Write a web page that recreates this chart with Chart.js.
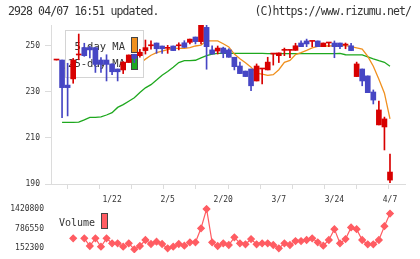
<!DOCTYPE html>
<html>
<head>
<meta charset="utf-8">
<script src="https://cdn.jsdelivr.net/npm/chart.js@4.4.0/dist/chart.umd.min.js"></script>
<style>
html, body { margin: 0; padding: 0; background: #fff; }
#wrap { position: relative; width: 420px; height: 259px; overflow: hidden; }
.hdr { position: absolute; top: 4px; font: 11.5px "DejaVu Sans Mono", monospace; color: #333; letter-spacing: -0.9px; white-space: nowrap; }
#price { position: absolute; left: 0; top: 0; }
#vol { position: absolute; left: 0; top: 192px; }
</style>
</head>
<body>
<div id="wrap">
  <canvas id="price" width="420" height="192"></canvas>
  <canvas id="vol" width="420" height="67"></canvas>
  <div class="hdr" style="left:8px">2928 04/07 16:51 updated.</div>
  <div class="hdr" style="right:9px">(C)https://www.rizumu.net/</div>
</div>
<script>
// trading days, 2025-01-07 .. 2025-04-07
const dates = ['1/7','1/8','1/9','1/10','1/14','1/15','1/16','1/17','1/20','1/21',
  '1/22','1/23','1/24','1/27','1/28','1/29','1/30','1/31','2/3','2/4',
  '2/5','2/6','2/7','2/10','2/12','2/13','2/14','2/17','2/18','2/19',
  '2/20','2/21','2/25','2/26','2/27','2/28','3/3','3/4','3/5','3/6',
  '3/7','3/10','3/11','3/12','3/13','3/14','3/17','3/18','3/19','3/21',
  '3/24','3/25','3/26','3/27','3/28','3/31','4/1','4/2','4/3','4/4','4/7'];

const open  = [243.9,243.9,233.0,235.7,246.1,249.3,249.3,249.3,243.9,243.9,
  242.2,240.0,239.6,242.8,246.4,245.8,248.0,250.1,251.3,250.0,
  249.0,250.0,250.1,251.4,251.6,253.9,251.9,258.1,248.3,247.8,
  249.1,248.3,245.1,241.3,239.1,240.0,234.8,240.0,239.6,246.5,
  245.8,248.1,248.1,248.1,251.3,252.2,252.0,252.2,249.7,251.3,
  251.3,251.3,250.4,250.1,236.7,240.0,237.0,230.0,215.7,214.8,191.7];
const high  = [243.9,243.9,242.5,244.6,255.2,251.2,250.0,249.3,245.0,246.2,
  242.2,240.0,243.2,246.1,246.4,248.6,252.6,252.2,251.3,250.0,
  250.3,250.0,251.4,252.3,253.0,253.9,259.1,259.1,250.1,250.0,
  249.5,248.8,245.1,243.0,239.1,240.0,242.2,240.0,245.1,246.8,
  247.0,249.1,248.1,251.2,252.2,253.0,252.0,252.2,251.3,251.3,
  252.2,251.3,251.3,251.2,243.0,240.0,237.0,230.9,226.1,219.1,203.0];
const low   = [243.9,218.8,219.6,233.8,244.0,245.5,244.8,238.5,238.5,234.8,
  237.5,234.8,238.0,242.8,242.8,245.1,246.5,248.6,246.8,246.8,
  246.8,248.0,248.3,249.4,250.9,250.9,250.9,239.9,246.5,246.5,
  244.9,245.1,239.6,238.0,236.7,230.6,234.8,233.5,239.6,241.7,
  242.8,245.8,244.9,248.1,249.7,249.7,249.7,249.7,249.7,249.7,
  244.9,248.8,248.8,248.0,236.7,232.7,229.7,224.8,215.7,204.8,190.6];
const close = [243.9,231.9,231.9,243.9,246.1,245.8,248.3,242.0,242.0,242.0,
  238.8,238.8,243.0,246.1,244.6,247.3,249.3,250.1,248.8,248.8,
  249.0,248.0,250.1,249.4,253.0,251.9,259.1,249.7,246.5,249.1,
  246.8,245.1,241.0,238.0,236.7,232.7,241.3,240.0,243.0,246.5,
  247.0,248.1,248.1,250.1,249.7,250.9,252.0,249.7,251.3,251.3,
  249.7,249.7,250.4,248.0,242.2,234.8,229.7,226.5,222.2,218.3,195.2];

const ma5 = [null,240.6,240.0,239.8,239.6,240.0,243.2,245.3,244.9,244.0,
  242.6,240.8,240.9,241.7,242.3,242.5,244.3,246.0,247.1,247.8,
  248.4,249.0,249.0,249.0,249.3,250.0,250.4,252.2,252.2,252.2,
  251.0,249.6,246.5,244.5,242.7,240.8,238.2,237.8,237.2,237.5,
  239.7,242.9,243.7,246.3,247.1,248.1,249.2,249.8,250.0,250.0,
  250.1,250.2,250.2,249.7,249.2,248.7,245.5,241.2,235.5,229.5,218.3];
const ma25 = [null,216.8,216.8,216.8,216.9,217.9,219.0,219.0,219.2,220.0,
  221.0,223.3,224.5,226.0,227.5,229.8,231.8,233.2,235.2,237.3,
  238.9,240.8,242.8,243.6,243.6,243.8,244.8,245.8,246.5,246.8,
  246.8,246.8,246.8,246.8,246.8,246.8,246.8,246.8,246.7,246.7,
  246.7,246.7,246.7,246.7,246.7,246.7,246.7,246.7,246.7,246.7,
  246.7,246.8,246.2,246.1,246.1,246.1,245.3,244.4,243.6,242.9,241.2];

const volume = [null,null,null,474000,null,474000,226000,474000,203000,474000,
  313000,313000,203000,313000,119000,226000,420000,290000,365000,290000,
  152000,203000,290000,236000,345000,345000,797000,1420000,345000,226000,
  313000,258000,505000,313000,281000,450000,281000,313000,313000,258000,
  152000,313000,258000,386000,386000,420000,474000,345000,236000,420000,
  770000,313000,450000,825000,770000,420000,281000,281000,420000,866000,1273000];

const priceTicks = [190, 210, 230, 250];
const volTicks = [152300, 786550, 1420800];
const dateTickIdx = [10, 20, 30, 40, 50, 60];

const RED = '#d80000', BLUE = '#4646c4', ORANGE = '#f0901e', GREEN = '#1ea81e', VOLC = '#ff5c62';
const XMIN = -0.99, XMAX = 62.7;
const MONO = '"DejaVu Sans Mono", monospace';

const up = close.map((c, i) => c >= open[i]);
const candleCol = up.map(u => u ? RED : BLUE);

// keep the y axis from pushing the plot area around
function fixY(s) { s.width = 51; s.paddingTop = 0; s.paddingBottom = 0; }

const legendBox = {
  id: 'legendBox',
  afterDatasetDraw(chart, args) {
    if (args.index !== 1) return;
    const ctx = chart.ctx;
    ctx.save();
    ctx.fillStyle = '#fff';
    ctx.fillRect(65.5, 30.5, 78, 47);
    ctx.strokeStyle = '#d4d4d4';
    ctx.lineWidth = 1;
    ctx.strokeRect(65.5, 30.5, 78, 47);
    ctx.font = '10.5px ' + MONO;
    ctx.fillStyle = '#333';
    ctx.textAlign = 'right';
    ctx.fillText('5-day MA', 125, 50);
    ctx.fillText('25-day MA', 125, 66.5);
    ctx.strokeStyle = '#444';
    ctx.fillStyle = ORANGE;
    ctx.fillRect(131.5, 37.5, 6, 15);
    ctx.strokeRect(131.5, 37.5, 6, 15);
    ctx.fillStyle = GREEN;
    ctx.fillRect(131.5, 54.5, 6, 15);
    ctx.strokeRect(131.5, 54.5, 6, 15);
    ctx.restore();
  }
};

new Chart(document.getElementById('price'), {
  type: 'bar',
  data: {
    datasets: [
      { type: 'line', label: '25-day MA', data: ma25.map((v, i) => ({x: i, y: v})),
        borderColor: GREEN, borderWidth: 1.3, pointRadius: 0, spanGaps: false, order: 4 },
      { type: 'line', label: '5-day MA', data: ma5.map((v, i) => ({x: i, y: v})),
        borderColor: ORANGE, borderWidth: 1.3, pointRadius: 0, spanGaps: false, order: 3 },
      { label: 'wick', data: high.map((h, i) => ({x: i, y: [low[i], h]})),
        backgroundColor: candleCol, barThickness: 1, grouped: false, order: 2 },
      { label: 'body', data: open.map((o, i) => ({x: i, y: [o, close[i]]})),
        backgroundColor: candleCol, barThickness: 5, minBarLength: 1, grouped: false, order: 1 }
    ]
  },
  options: {
    responsive: false,
    animation: false,
    layout: { padding: { top: 25, right: 15, left: 0, bottom: 0 } },
    plugins: { legend: { display: false }, tooltip: { enabled: false } },
    scales: {
      x: {
        type: 'linear', min: XMIN, max: XMAX, offset: false,
        afterBuildTicks: s => { s.ticks = Array.from({length: 12}, (_, k) => ({value: XMIN + k * (XMAX - XMIN) / 11})); },
        afterFit: s => { s.height = 8; s.paddingLeft = 0; s.paddingRight = 0; },
        ticks: { display: false },
        grid: { drawOnChartArea: false, drawTicks: true, tickLength: 5, color: '#dcdcdc' },
        border: { display: true, color: '#dcdcdc' }
      },
      y: {
        min: 190, max: 259.13,
        afterBuildTicks: s => { s.ticks = priceTicks.map(v => ({value: v})); },
        afterFit: fixY,
        ticks: { font: { family: MONO, size: 8 }, color: '#333', padding: 5 },
        grid: { drawOnChartArea: false, drawTicks: true, tickLength: 6, color: '#dcdcdc' },
        border: { display: true, color: '#dcdcdc' }
      }
    }
  },
  plugins: [legendBox]
});

const volLegend = {
  id: 'volLegend',
  afterDatasetsDraw(chart) {
    const ctx = chart.ctx;
    ctx.save();
    ctx.font = '10px ' + MONO;
    ctx.fillStyle = '#333';
    ctx.fillText('Volume', 59, 33.5);
    ctx.fillStyle = VOLC;
    ctx.strokeStyle = '#444';
    ctx.fillRect(101.5, 21.5, 6, 15);
    ctx.strokeRect(101.5, 21.5, 6, 15);
    ctx.restore();
  }
};

new Chart(document.getElementById('vol'), {
  type: 'line',
  data: {
    datasets: [{
      label: 'Volume', data: volume.map((v, i) => ({x: i, y: v})),
      borderColor: VOLC, backgroundColor: VOLC, borderWidth: 1.2,
      pointStyle: 'rectRot', pointRadius: 3.3, spanGaps: false
    }]
  },
  options: {
    responsive: false,
    animation: false,
    layout: { padding: { top: 0, right: 15, left: 0, bottom: 6 } },
    plugins: { legend: { display: false }, tooltip: { enabled: false } },
    scales: {
      x: {
        type: 'linear', position: 'top', min: XMIN, max: XMAX,
        afterBuildTicks: s => { s.ticks = dateTickIdx.map(v => ({value: v})); },
        afterFit: s => { s.height = 13; s.paddingLeft = 0; s.paddingRight = 0; },
        ticks: { font: { family: MONO, size: 8 }, color: '#333', padding: 0, maxRotation: 0,
          callback: v => dates[v] },
        grid: { display: false, drawTicks: false },
        border: { display: false }
      },
      y: {
        min: 0, max: 1549300,
        afterBuildTicks: s => { s.ticks = volTicks.map(v => ({value: v})); },
        afterFit: fixY,
        ticks: { font: { family: MONO, size: 8 }, color: '#333', padding: 7, callback: v => String(v) },
        grid: { display: false, drawTicks: false },
        border: { display: false }
      }
    }
  },
  plugins: [volLegend]
});
</script>
</body>
</html>
